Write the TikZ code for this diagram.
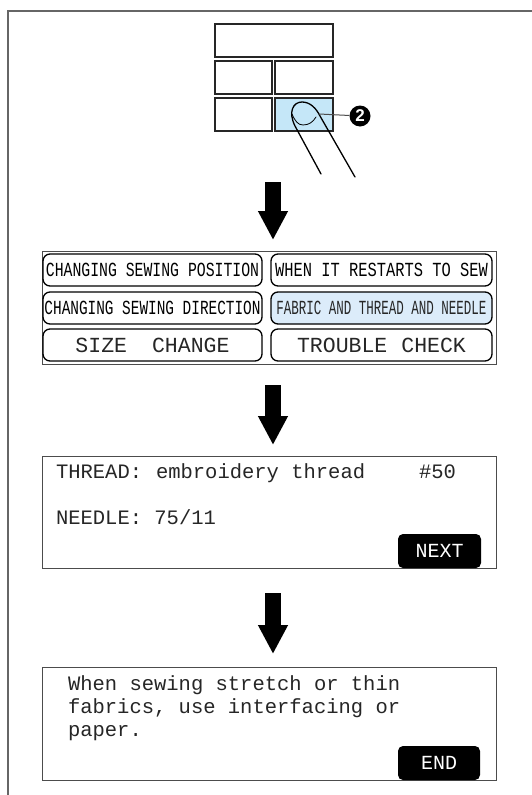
\documentclass[tikz,border=0pt]{standalone}
\usepackage{fontspec}
\setmainfont{Liberation Mono}
\newfontfamily\numfont{Liberation Sans}
\usetikzlibrary{arrows.meta}
\tikzset{
  x=1pt,y=-1pt,
  frameline/.style={draw=black!60,line width=1.4pt},
  gridcell/.style={draw=black!85,line width=1.3pt,fill=white,inner sep=0pt,outer sep=0pt,anchor=north west},
  screen/.style={draw=black!70,line width=1pt,fill=white,inner sep=0pt,outer sep=0pt,anchor=north west},
  menubtn/.style={draw=black,line width=1.3pt,fill=white,rounded corners=7pt,inner sep=0pt,outer sep=0pt,anchor=north west,minimum height=32pt,font=\fontsize{20}{20}\selectfont},
  softkey/.style={fill=black,text=white,rounded corners=5pt,inner sep=0pt,outer sep=0pt,anchor=north west,font=\fontsize{20}{20}\selectfont},
  lcd/.style={inner sep=0pt,outer sep=0pt,anchor=base west,text=black!85,font=\fontsize{20.5}{20.5}\selectfont},
  flowarrow/.style={draw=black,line width=16pt,-{Triangle[width=28pt,length=29pt]}},
  fingerline/.style={draw=black,line width=1.3pt,line cap=round,line join=round},
}
\begin{document}
\begin{tikzpicture}
\useasboundingbox (0,0) rectangle (532,795);
\coordinate (frameA) at (8,795);
\coordinate (frameB) at (8,11);
\coordinate (frameC) at (532,11);
\draw[frameline] (frameA) -- (frameB) -- (frameC);
% key grid
\node[gridcell,minimum width=118pt,minimum height=33pt] (g1) at (215,24) {};
\node[gridcell,minimum width=57pt,minimum height=33pt] (g2) at (215,61) {};
\node[gridcell,minimum width=58pt,minimum height=33pt] (g3) at (275,61) {};
\node[gridcell,minimum width=57pt,minimum height=33pt] (g4) at (215,98) {};
\node[gridcell,minimum width=58pt,minimum height=33pt,fill={rgb,255:red,197;green,231;blue,248}] (g5) at (275,98) {};
% finger
\draw[fingerline] (321,174) -- (295,126) .. controls (288,112) and (293,102) .. (302,102)
  .. controls (310,102) and (316,108) .. (320,116) -- (355,177);
\draw[fingerline,line width=0.8pt] (292,114) .. controls (295,121) and (298,125) .. (303,125)
  .. controls (309,125) and (313,122) .. (316,117);
% callout
\node[circle,fill=black,text=white,inner sep=0pt,minimum size=21pt,font=\numfont\bfseries\fontsize{17}{17}\selectfont] (c2) at (360,116) {2};
\coordinate (lead) at (319,114);
\draw[draw=black!70,line width=1pt] (lead) -- (c2);
% arrows
\coordinate (a1s) at (273,182); \coordinate (a1e) at (273,240);
\coordinate (a2s) at (273,385); \coordinate (a2e) at (273,445);
\coordinate (a3s) at (273,593); \coordinate (a3e) at (273,654);
\draw[flowarrow] (a1s) -- (a1e);
\draw[flowarrow] (a2s) -- (a2e);
\draw[flowarrow] (a3s) -- (a3e);
% menu screen
\node[screen,minimum width=454pt,minimum height=113pt] (s2) at (42,251) {};
\node[menubtn,minimum width=219pt] (m1) at (43,254) {\scalebox{0.74}[1]{CHANGING SEWING POSITION}};
\node[menubtn,minimum width=221pt] (m2) at (271,254) {\scalebox{0.77}[1]{WHEN IT RESTARTS TO SEW}};
\node[menubtn,minimum width=219pt] (m3) at (43,292) {\scalebox{0.72}[1]{CHANGING SEWING DIRECTION}};
\node[menubtn,minimum width=221pt,fill={rgb,255:red,220;green,236;blue,250},text=black!85] (m4) at (271,292) {\scalebox{0.625}[1]{FABRIC AND THREAD AND NEEDLE}};
\node[menubtn,minimum width=219pt,text=black!85,font=\fontsize{21.5}{21.5}\selectfont] (m5) at (43,329) {SIZE\hspace{25pt}CHANGE};
\node[menubtn,minimum width=221pt,text=black!85,font=\fontsize{21.5}{21.5}\selectfont] (m6) at (271,329) {TROUBLE\hspace{14pt}CHECK};
% thread screen
\node[screen,minimum width=454pt,minimum height=112pt] (s3) at (42,456) {};
\node[lcd] (t1) at (56,478) {THREAD:};
\node[lcd] (t2) at (156,478) {embroidery thread};
\node[lcd] (t3) at (419,478) {\#50};
\node[lcd] (t4) at (56,524) {NEEDLE: 75/11};
\node[softkey,minimum width=83pt,minimum height=34pt] (k1) at (398,534) {NEXT};
% note screen
\node[screen,minimum width=454pt,minimum height=113pt] (s4) at (42,667) {};
\node[lcd] (n1) at (68,690) {When sewing stretch or thin};
\node[lcd] (n2) at (68,713) {fabrics, use interfacing or};
\node[lcd] (n3) at (68,736) {paper.};
\node[softkey,minimum width=82pt,minimum height=34pt] (k2) at (398,746) {END};
\end{tikzpicture}
\end{document}
